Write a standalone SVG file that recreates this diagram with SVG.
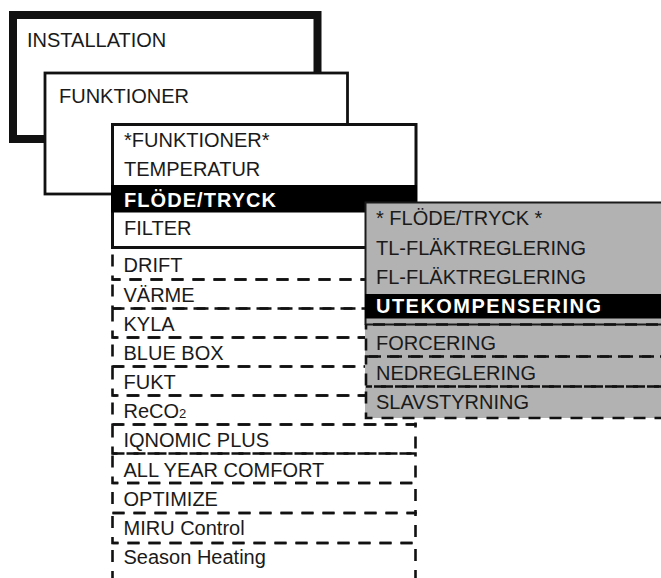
<svg xmlns="http://www.w3.org/2000/svg" width="661" height="578" viewBox="0 0 661 578">
<style>
  text { font-family: "Liberation Sans", Arial, sans-serif; font-size: 20px; fill: #1a1a1a; }
  .b { font-weight: bold; fill: #ffffff; }
  .box { fill: #ffffff; stroke: #111111; }
  .dash { fill: none; stroke: #111111; stroke-width: 2.6; stroke-dasharray: 12 9; }
  .grey { fill: #b2b2b2; }
  .band { fill: #000000; }
</style>
<rect x="0" y="0" width="661" height="578" fill="#ffffff"/>

<g id="installation">
  <rect class="box" x="13" y="15" width="304.5" height="124" stroke-width="8"/>
  <text x="27" y="47">INSTALLATION</text>
</g>

<g id="funktioner">
  <rect class="box" x="45" y="73" width="302.5" height="121" stroke-width="2.8"/>
  <text x="59" y="103">FUNKTIONER</text>
</g>

<g id="funktioner-list">
  <g id="item-drift">
    <rect class="dash" x="112.5" y="247.5" width="303" height="32"/>
    <text x="123.5" y="272">DRIFT</text>
  </g>
  <g id="item-varme">
    <rect class="dash" x="112.5" y="279.5" width="303" height="29" stroke-dashoffset="4"/>
    <text x="123.5" y="301.5">VÄRME</text>
  </g>
  <g id="item-kyla">
    <rect class="dash" x="112.5" y="308.5" width="303" height="29"/>
    <text x="123.5" y="331">KYLA</text>
  </g>
  <g id="item-bluebox">
    <rect class="dash" x="112.5" y="337.5" width="303" height="29" stroke-dashoffset="6"/>
    <text x="123.5" y="360">BLUE BOX</text>
  </g>
  <g id="item-fukt">
    <rect class="dash" x="112.5" y="366.5" width="303" height="29"/>
    <text x="123.5" y="389">FUKT</text>
  </g>
  <g id="item-reco2">
    <rect class="dash" x="112.5" y="395.5" width="303" height="29" stroke-dashoffset="6"/>
    <text x="123.5" y="418">ReCO<tspan font-size="13">2</tspan></text>
  </g>
  <g id="item-iqnomic">
    <rect class="dash" x="112.5" y="424.5" width="303" height="29"/>
    <text x="123.5" y="447">IQNOMIC PLUS</text>
  </g>
  <g id="item-allyear">
    <rect class="dash" x="112.5" y="453.5" width="303" height="29.5"/>
    <text x="123.5" y="476.5">ALL YEAR COMFORT</text>
  </g>
  <g id="item-optimize">
    <rect class="dash" x="112.5" y="483" width="303" height="30" stroke-dashoffset="6"/>
    <text x="123.5" y="506">OPTIMIZE</text>
  </g>
  <g id="item-miru">
    <rect class="dash" x="112.5" y="513" width="303" height="30"/>
    <text x="123.5" y="535">MIRU Control</text>
  </g>
  <g id="item-season">
    <rect class="dash" x="112.5" y="543" width="303" height="50" stroke-dashoffset="6"/>
    <text x="123.5" y="563.5">Season Heating</text>
  </g>
</g>

<g id="funktioner-menu">
  <rect class="box" x="112.5" y="124.5" width="303.5" height="123" stroke-width="3"/>
  <rect class="band" x="111" y="185" width="306" height="27.5"/>
  <text x="124" y="146.5">*FUNKTIONER*</text>
  <text x="124" y="175.5">TEMPERATUR</text>
  <text class="b" x="124" y="206.5" textLength="152" lengthAdjust="spacing">FLÖDE/TRYCK</text>
  <text x="124" y="235">FILTER</text>
</g>

<g id="flode-tryck-menu">
  <rect class="grey" x="365" y="202" width="300" height="216"/>
  <path d="M365.5 325 V202.5 H665" fill="none" stroke="#1a1a1a" stroke-width="2"/>
  <rect class="band" x="365" y="294" width="300" height="24.5"/>
  <line x1="365" y1="324.5" x2="665" y2="324.5" stroke="#1a1a1a" stroke-width="2"/>
  <text x="376" y="225">* FLÖDE/TRYCK *</text>
  <text x="376" y="255">TL-FLÄKTREGLERING</text>
  <text x="376" y="283.5">FL-FLÄKTREGLERING</text>
  <text class="b" x="376" y="312.5" textLength="225" lengthAdjust="spacing">UTEKOMPENSERING</text>
  <g id="item-forcering">
    <rect class="dash" x="366" y="324.5" width="310" height="32" stroke-dashoffset="14"/>
    <text x="376" y="350">FORCERING</text>
  </g>
  <g id="item-nedreglering">
    <rect class="dash" x="366" y="356.5" width="310" height="30"/>
    <text x="376" y="380">NEDREGLERING</text>
  </g>
  <g id="item-slavstyrning">
    <rect class="dash" x="366" y="386.5" width="310" height="31.5" stroke-dashoffset="6"/>
    <text x="376" y="408.5">SLAVSTYRNING</text>
  </g>
</g>
</svg>
